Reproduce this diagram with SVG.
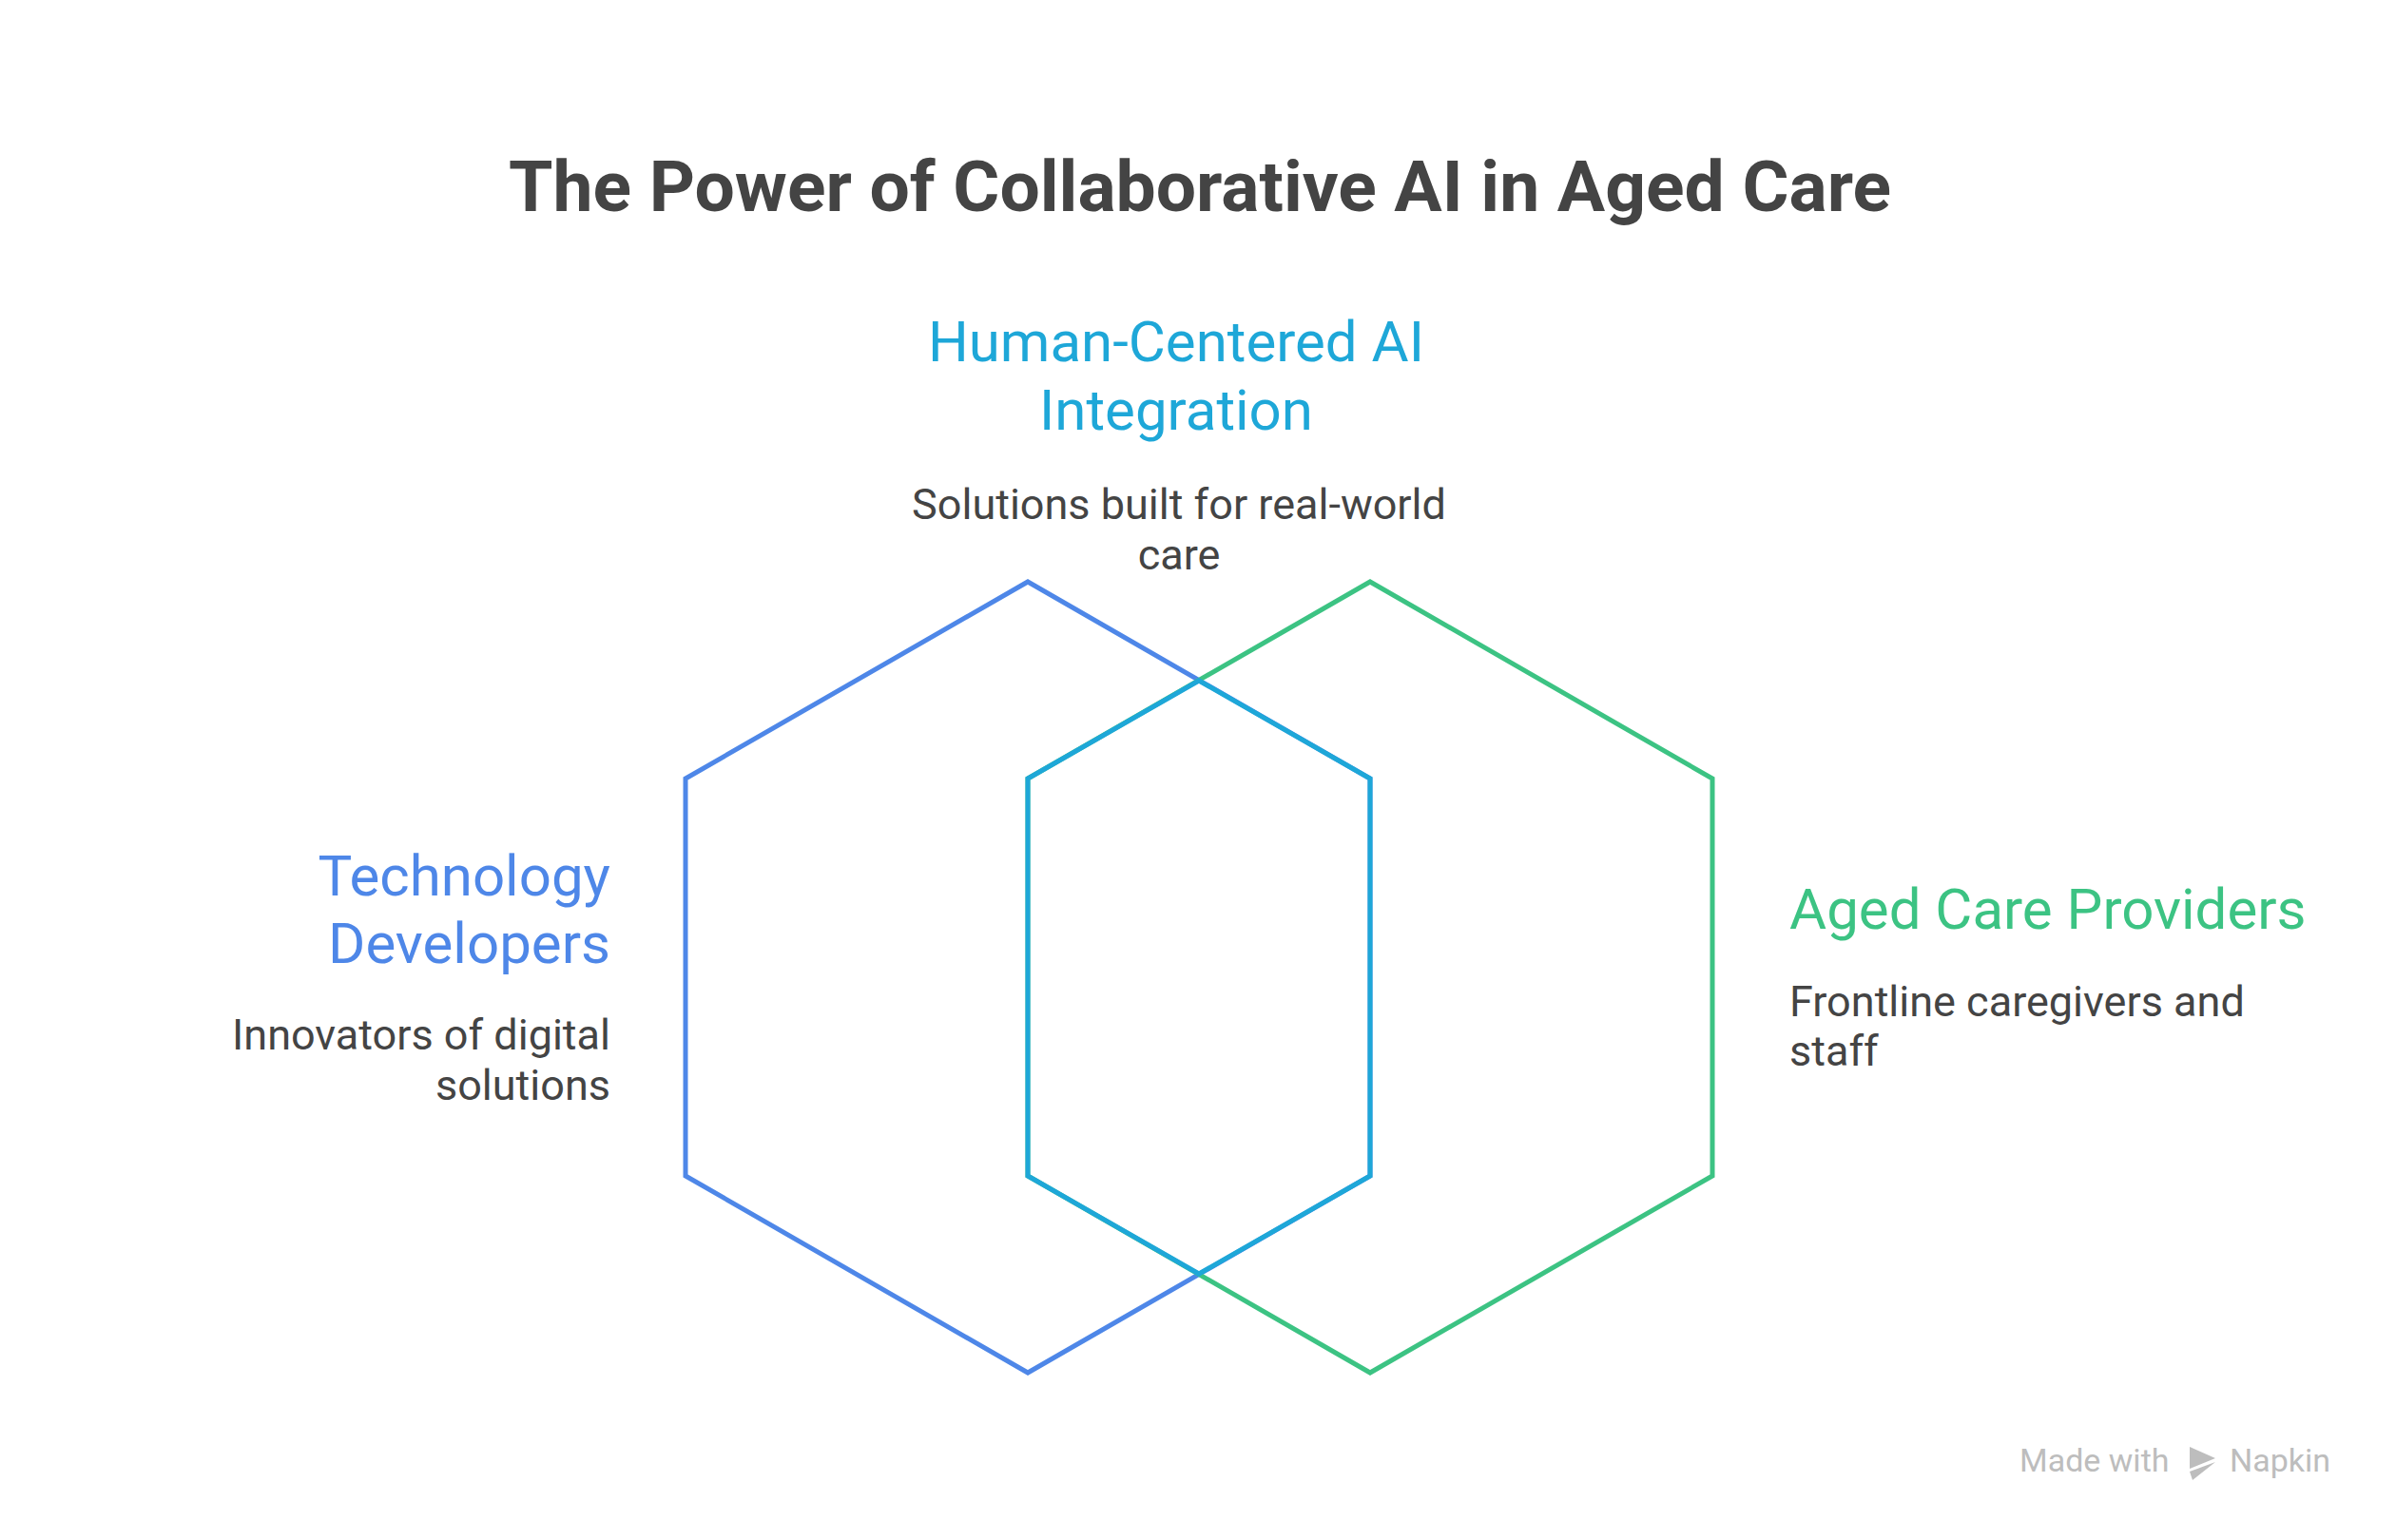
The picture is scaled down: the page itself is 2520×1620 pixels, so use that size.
<svg xmlns="http://www.w3.org/2000/svg" width="2520" height="1620" viewBox="0 0 2520 1620">
<style>
.t{font-family:Roboto,"Liberation Sans",sans-serif}
.h{font-size:60px}
.d{font-size:45px;fill:#444}
.hex{fill:none;stroke-width:5;stroke-linejoin:miter}
</style>
<rect width="2520" height="1620" fill="#fff"/>
<text class="t" x="1262" y="222" text-anchor="middle" font-size="75" font-weight="bold" fill="#444">The Power of Collaborative AI in Aged Care</text>
<g id="connectors">
<polygon id="hex-blue" class="hex" stroke="#4E87E8" points="1081,612 1441,819 1441,1237 1081,1444 721,1237 721,819"/>
<polygon id="hex-green" class="hex" stroke="#3CC383" points="1441,612 1801,819 1801,1237 1441,1444 1081,1237 1081,819"/>
<polygon id="hex-cyan" class="hex" stroke="#1EA7D8" points="1261,716 1441,819 1441,1237 1261,1340 1081,1237 1081,819"/>
</g>
<g id="node-center">
<text class="t h" x="1237" y="380" text-anchor="middle" fill="#1EA7D8">Human-Centered AI</text>
<text class="t h" x="1237" y="452" text-anchor="middle" fill="#1EA7D8">Integration</text>
<text class="t d" x="1240" y="546" text-anchor="middle">Solutions built for real-world</text>
<text class="t d" x="1240" y="599" text-anchor="middle">care</text>
</g>
<g id="node-tech">
<text class="t h" x="642" y="942" text-anchor="end" fill="#4E87E8">Technology</text>
<text class="t h" x="642" y="1013" text-anchor="end" fill="#4E87E8">Developers</text>
<text class="t d" x="642" y="1104" text-anchor="end">Innovators of digital</text>
<text class="t d" x="642" y="1157" text-anchor="end">solutions</text>
</g>
<g id="node-aged">
<text class="t h" x="1882" y="977" fill="#3CC383">Aged Care Providers</text>
<text class="t d" x="1882" y="1069">Frontline caregivers and</text>
<text class="t d" x="1882" y="1121">staff</text>
</g>
<g id="footer" fill="#BDBDBD">
<text class="t" x="2124" y="1548" font-size="34">Made with</text>
<polygon points="2303,1522 2330,1534 2303,1545"/>
<polygon points="2303,1548 2330,1538 2306,1557"/>
<text class="t" x="2345" y="1548" font-size="34">Napkin</text>
</g>
</svg>
